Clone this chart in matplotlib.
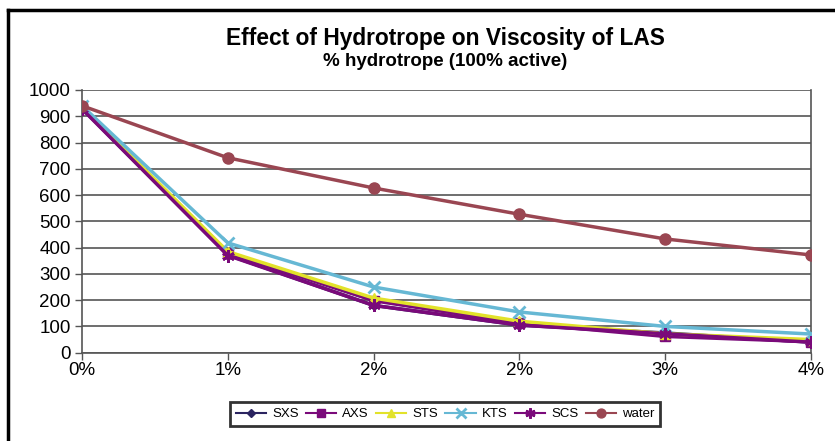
import matplotlib
matplotlib.use("Agg")
import matplotlib.pyplot as plt
from matplotlib.lines import Line2D

plt.rcParams['font.family'] = ['Liberation Sans', 'DejaVu Sans']

categories = ["0%", "1%", "2%", "2%", "3%", "4%"]
sxs = [930, 372, 180, 105, 75, 40]
axs = [932, 380, 198, 112, 62, 42]
sts = [935, 385, 208, 120, 72, 50]
kts = [940, 418, 250, 155, 100, 71]
scs = [928, 370, 180, 105, 72, 40]
water = [940, 742, 627, 527, 433, 372]

series = [
    ("SXS", sxs, "#2B2460", "D", 5),
    ("AXS", axs, "#7A0A7A", "s", 7),
    ("STS", sts, "#E2E22A", "^", 7),
    ("KTS", kts, "#66B8D4", "x", 9),
    ("SCS", scs, "#7A0A7A", (6, 2, 0), 9),
    ("water", water, "#9A4652", "o", 8),
]

fig = plt.figure(figsize=(8.35, 4.41), dpi=100)
ax = fig.add_axes([82/835, 1 - 352.7/441, (811-82)/835, (352.7-90)/441])

x = list(range(len(categories)))
for name, vals, col, mk, ms in series:
    kw = dict(color=col, lw=2.5, marker=mk, markersize=ms, label=name,
              markeredgecolor=col, markerfacecolor=col)
    if mk == "x" or isinstance(mk, tuple):
        kw["markeredgewidth"] = 2
    ax.plot(x, vals, **kw, zorder=3)

ax.set_xlim(0, len(categories) - 1)
ax.set_ylim(0, 1000)
ax.set_yticks(range(0, 1001, 100))
ax.set_xticks(x)
ax.set_xticklabels(categories)
ax.tick_params(axis='both', labelsize=13.5, direction='out', length=5,
               color='#555555', width=1)
ax.tick_params(axis='y', pad=3)
ax.tick_params(axis='x', pad=2)
ax.grid(axis='y', color='#555555', lw=1.2, zorder=0)
ax.spines['top'].set_visible(False)
for s in ['left', 'bottom', 'right']:
    ax.spines[s].set_color('#555555')
    ax.spines[s].set_linewidth(1.2)

fig.text(445/835, 1 - 38/441, "Effect of Hydrotrope on Viscosity of LAS",
         ha='center', va='center', fontsize=16.4, fontweight='bold')
fig.text(445/835, 1 - 61/441, "% hydrotrope (100% active)",
         ha='center', va='center', fontsize=13.5, fontweight='bold')

leg = fig.legend(loc='center', bbox_to_anchor=(445/835, 1 - 414/441), ncol=6,
                 fontsize=9.5, frameon=True, fancybox=False, handlelength=2.3,
                 columnspacing=0.55, handletextpad=0.45, borderpad=0.45,
                 markerscale=0.8)
leg.get_frame().set_edgecolor('black')
leg.get_frame().set_linewidth(2)
for h in leg.get_lines():
    h.set_linewidth(1.5)

fig.add_artist(Line2D([8/835, 8/835], [0, 1 - 10/441], color='black', lw=2.5,
                      transform=fig.transFigure))
fig.add_artist(Line2D([8/835, 1], [1 - 10/441, 1 - 10/441], color='black', lw=2.5,
                      transform=fig.transFigure))

fig.savefig("out.png", dpi=100)
